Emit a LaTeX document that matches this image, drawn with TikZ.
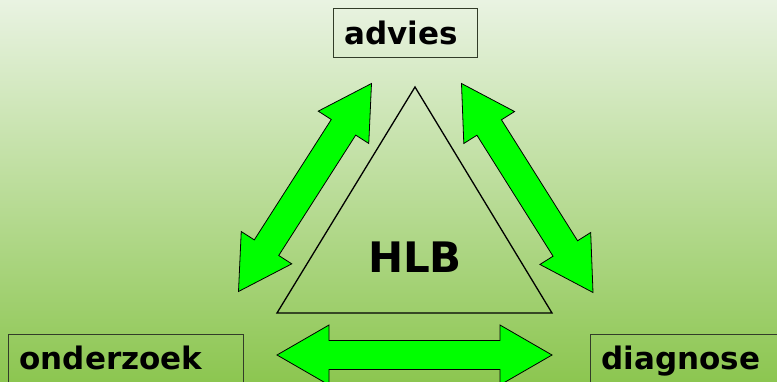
\documentclass[tikz,border=0pt]{standalone}
\usepackage{fontspec}
\setmainfont{DejaVu Sans}
\usetikzlibrary{calc}
\definecolor{bgtop}{RGB}{233,243,226}
\definecolor{bgbot}{RGB}{140,198,80}
\definecolor{arrowgreen}{RGB}{0,255,0}
\definecolor{boxline}{RGB}{50,60,40}
\newcommand\headlen{52pt}
\newcommand\headhw{30pt}
\newcommand\shafthw{14.5pt}
\newcommand\dblarrow[3]{%
  \coordinate (#1a) at ($(#2)!\headlen!(#3)$);
  \coordinate (#1b) at ($(#3)!\headlen!(#2)$);
  \draw[arrowstyle] (#2) -- ($(#1a)!\headhw!90:(#3)$) -- ($(#1a)!\shafthw!90:(#3)$)
    -- ($(#1b)!\shafthw!-90:(#2)$) -- ($(#1b)!\headhw!-90:(#2)$) -- (#3)
    -- ($(#1b)!\headhw!90:(#2)$) -- ($(#1b)!\shafthw!90:(#2)$)
    -- ($(#1a)!\shafthw!-90:(#3)$) -- ($(#1a)!\headhw!-90:(#3)$) -- cycle;}
\tikzset{
  arrowstyle/.style={fill=arrowgreen, draw=black, line width=0.8pt, line join=miter},
  labelbox/.style={draw=boxline, line width=1pt, font=\bfseries\fontsize{31}{31}\selectfont,
    minimum height=49pt, text height=23pt, text depth=0pt, inner xsep=11pt, inner ysep=0pt,
    align=left, anchor=north west},
  tri/.style={draw=black, line width=1.3pt, line join=miter},
  centertext/.style={font=\bfseries\fontsize{42}{42}\selectfont, inner sep=0pt, text height=30pt, text depth=0pt}
}
\begin{document}
\begin{tikzpicture}[x=1pt, y=-1pt]
  \useasboundingbox (0,0) rectangle (777,382);
  \clip (0,0) rectangle (777,382);
  \shade[top color=bgtop, bottom color=bgbot] (0,0) rectangle (777,382);

  % boxes
  \node[labelbox, text width=122pt] (advies) at (333,8) {advies};
  \node[labelbox, text width=213pt] (onderzoek) at (8,333.5) {onderzoek};
  \node[labelbox, text width=180pt] (diagnose) at (590,333.5) {diagnose};

  % triangle
  \coordinate (apex) at (415,87);
  \coordinate (tl) at (277,313);
  \coordinate (tr) at (552,313);
  \draw[tri] (apex) -- (tl) -- (tr) -- cycle;
  \node[centertext] (hlb) at (415,258) {HLB};

  % arrows
  \coordinate (la1) at (238.5,291.5);
  \coordinate (la2) at (371.5,83.5);
  \coordinate (ra1) at (461.5,83.5);
  \coordinate (ra2) at (593,292.5);
  \coordinate (ba1) at (277,355);
  \coordinate (ba2) at (552,355);
  \dblarrow{L}{la1}{la2}
  \dblarrow{R}{ra1}{ra2}
  \dblarrow{B}{ba1}{ba2}
\end{tikzpicture}
\end{document}
